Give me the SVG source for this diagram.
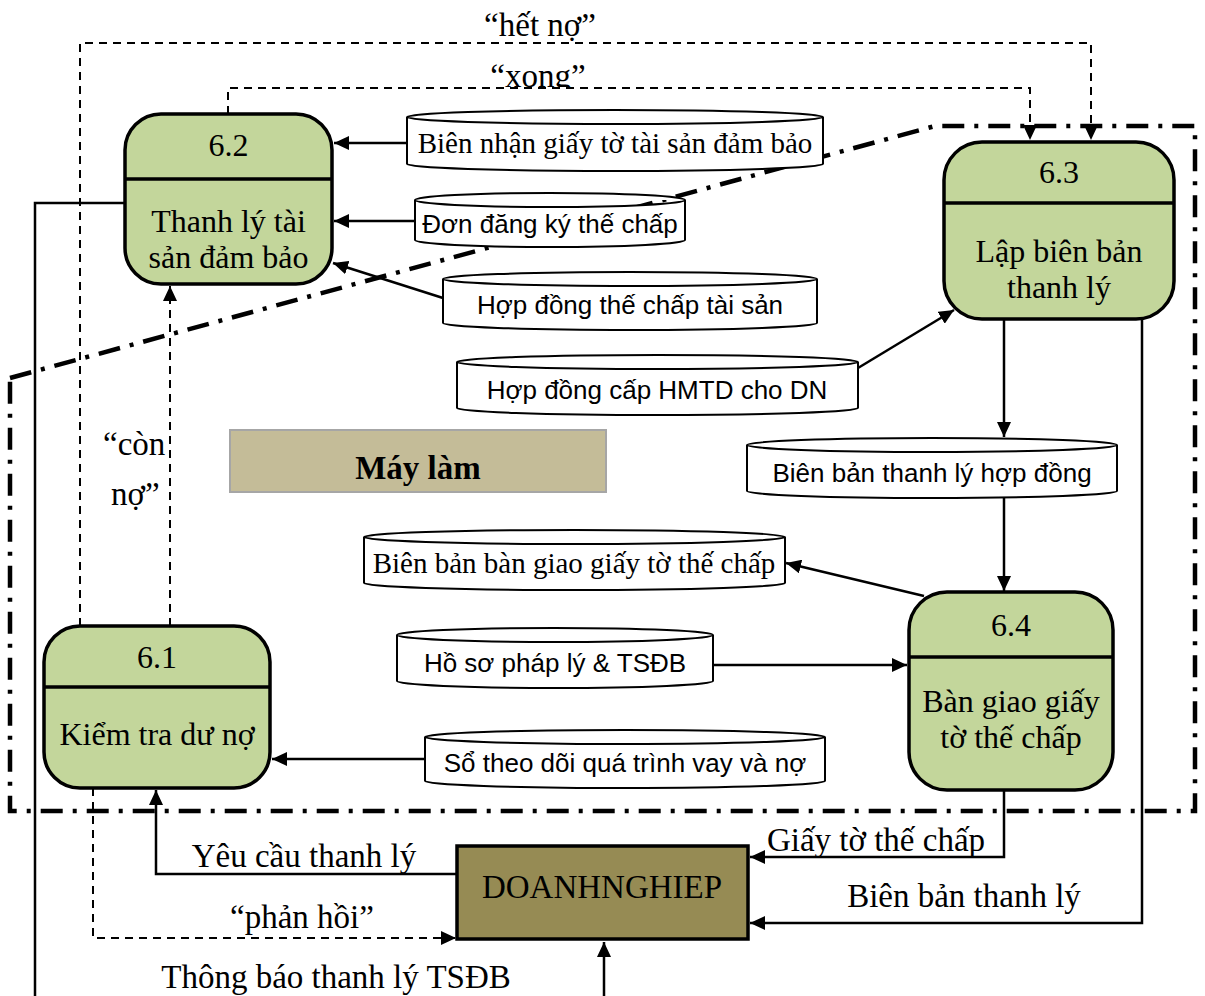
<svg xmlns="http://www.w3.org/2000/svg" width="1205" height="996" viewBox="0 0 1205 996">
  <style>
    .proc { fill: #C3D69B; stroke: #000; stroke-width: 3.5; }
    .div { stroke: #000; stroke-width: 3.5; }
    .store { fill: #fff; stroke: #000; stroke-width: 2; }
    .serif { font-family: "Liberation Serif", "Times New Roman", serif; fill: #000; }
    .sans { font-family: "Liberation Sans", Arial, sans-serif; fill: #000; font-size: 26px; }
    .ptxt { font-size: 32px; text-anchor: middle; }
    .stxt { font-size: 29px; text-anchor: middle; }
    .lbl { font-size: 33px; }
    .flow { fill: none; stroke: #000; stroke-width: 2.5; marker-end: url(#arr); }
    .dflow { fill: none; stroke: #000; stroke-width: 2; stroke-dasharray: 8 6; marker-end: url(#arr); }
    .bound { fill: none; stroke: #000; stroke-width: 4.5; stroke-dasharray: 22 10 4 10; }
  </style>
  <defs>
    <marker id="arr" markerUnits="userSpaceOnUse" markerWidth="16" markerHeight="14" refX="15" refY="7" orient="auto">
      <path d="M0,0 L15,7 L0,14 Z" fill="#000"/>
    </marker>
    <clipPath id="clipXong">
      <rect x="400" y="40" width="300" height="47"/>
    </clipPath>
  </defs>

  <!-- system boundary -->
  <path class="bound" d="M10,378 L935,126 L1195,126 L1195,811 L10,811 Z"/>

  <!-- data flows -->
  <g id="connectors">
    <path class="dflow" d="M80,626 V43 H1091 V140"/>
    <path class="dflow" d="M228,114 V88 H1030 V140"/>
    <path class="dflow" d="M170,626 V286"/>
    <path class="dflow" d="M93,788 V938 H456"/>
    <path class="flow" d="M457,874 H156 V790"/>
    <path class="flow" d="M125,203 H35 V1010 H604 V942"/>
    <path class="flow" d="M407,143 H334"/>
    <path class="flow" d="M415,221 H334"/>
    <path class="flow" d="M443,298 L333,263"/>
    <path class="flow" d="M858,368 L954,310"/>
    <path class="flow" d="M1004,319 V437"/>
    <path class="flow" d="M1004,498 V591"/>
    <path class="flow" d="M924,596 L786,563"/>
    <path class="flow" d="M713,665 H907"/>
    <path class="flow" d="M425,759 H272"/>
    <path class="flow" d="M1004,790 V857 H750"/>
    <path class="flow" d="M1142,319 V923 H750"/>

    <text class="serif lbl" x="540" y="36" text-anchor="middle">“hết nợ”</text>
    <text class="serif lbl" x="538" y="87" text-anchor="middle" clip-path="url(#clipXong)">“xong”</text>
    <text class="serif lbl" x="103" y="455">“còn</text>
    <text class="serif lbl" x="111" y="505">nợ”</text>
    <text class="serif lbl" x="304" y="867" text-anchor="middle">Yêu cầu thanh lý</text>
    <text class="serif lbl" x="302" y="928" text-anchor="middle">“phản hồi”</text>
    <text class="serif lbl" x="336" y="988" text-anchor="middle">Thông báo thanh lý TSĐB</text>
    <text class="serif lbl" x="876" y="851" text-anchor="middle">Giấy tờ thế chấp</text>
    <text class="serif lbl" x="964" y="907" text-anchor="middle">Biên bản thanh lý</text>
  </g>

  <!-- processes -->
  <g id="p62">
    <rect class="proc" x="125" y="114" width="207" height="170" rx="36"/>
    <line class="div" x1="125" y1="179" x2="332" y2="179"/>
    <text class="serif ptxt" x="228.5" y="156">6.2</text>
    <text class="serif ptxt" x="228.5" y="232">Thanh lý tài</text>
    <text class="serif ptxt" x="228.5" y="268">sản đảm bảo</text>
  </g>
  <g id="p63">
    <rect class="proc" x="944" y="142" width="230" height="177" rx="38"/>
    <line class="div" x1="944" y1="203" x2="1174" y2="203"/>
    <text class="serif ptxt" x="1059" y="183">6.3</text>
    <text class="serif ptxt" x="1059" y="262">Lập biên bản</text>
    <text class="serif ptxt" x="1059" y="298">thanh lý</text>
  </g>
  <g id="p61">
    <rect class="proc" x="44" y="626" width="226" height="162" rx="36"/>
    <line class="div" x1="44" y1="687" x2="270" y2="687"/>
    <text class="serif ptxt" x="157" y="668">6.1</text>
    <text class="serif ptxt" x="157" y="745">Kiểm tra dư nợ</text>
  </g>
  <g id="p64">
    <rect class="proc" x="909" y="592" width="204" height="198" rx="38"/>
    <line class="div" x1="909" y1="657" x2="1113" y2="657"/>
    <text class="serif ptxt" x="1011" y="636">6.4</text>
    <text class="serif ptxt" x="1011" y="712">Bàn giao giấy</text>
    <text class="serif ptxt" x="1011" y="748">tờ thế chấp</text>
  </g>

  <!-- external entity -->
  <g id="doanhnghiep">
    <rect x="457" y="846" width="291" height="93" fill="#968B54" stroke="#000" stroke-width="3.5"/>
    <text class="serif" x="602" y="898" font-size="33" text-anchor="middle">DOANHNGHIEP</text>
  </g>

  <!-- annotation box -->
  <g id="maylam">
    <rect x="230" y="430" width="376" height="62" fill="#C4BC98" stroke="#A6A6A6" stroke-width="2"/>
    <text class="serif" x="418" y="479" font-size="33" font-weight="bold" text-anchor="middle">Máy làm</text>
  </g>

  <!-- data stores -->
  <g id="ds-bien-nhan">
    <path class="store" d="M407,117 A208,7 0 0 1 823,117 L823,164 A208,7 0 0 1 407,164 Z M407,117 A208,7 0 0 0 823,117"/>
    <text class="serif stxt" x="615" y="153">Biên nhận giấy tờ tài sản đảm bảo</text>
  </g>
  <g id="ds-don-dang-ky">
    <path class="store" d="M415,200 A135,7 0 0 1 685,200 L685,240 A135,7 0 0 1 415,240 Z M415,200 A135,7 0 0 0 685,200"/>
    <text class="sans" x="550" y="233" text-anchor="middle">Đơn đăng ký thế chấp</text>
  </g>
  <g id="ds-hd-the-chap">
    <path class="store" d="M443,279 A187,7 0 0 1 817,279 L817,323 A187,7 0 0 1 443,323 Z M443,279 A187,7 0 0 0 817,279"/>
    <text class="sans" x="630" y="314" text-anchor="middle">Hợp đồng thế chấp tài sản</text>
  </g>
  <g id="ds-hd-hmtd">
    <path class="store" d="M457,362 A200.5,7 0 0 1 858,362 L858,408 A200.5,7 0 0 1 457,408 Z M457,362 A200.5,7 0 0 0 858,362"/>
    <text class="sans" x="657" y="399" text-anchor="middle">Hợp đồng cấp HMTD cho DN</text>
  </g>
  <g id="ds-bb-thanh-ly">
    <path class="store" d="M747,445 A185,7 0 0 1 1117,445 L1117,491 A185,7 0 0 1 747,491 Z M747,445 A185,7 0 0 0 1117,445"/>
    <text class="sans" x="932" y="482" text-anchor="middle">Biên bản thanh lý hợp đồng</text>
  </g>
  <g id="ds-bb-ban-giao">
    <path class="store" d="M364,537 A210.5,7 0 0 1 785,537 L785,583 A210.5,7 0 0 1 364,583 Z M364,537 A210.5,7 0 0 0 785,537"/>
    <text class="serif stxt" x="574" y="573">Biên bản bàn giao giấy tờ thế chấp</text>
  </g>
  <g id="ds-ho-so">
    <path class="store" d="M397,635 A158,7 0 0 1 713,635 L713,681 A158,7 0 0 1 397,681 Z M397,635 A158,7 0 0 0 713,635"/>
    <text class="sans" x="555" y="672" text-anchor="middle">Hồ sơ pháp lý &amp; TSĐB</text>
  </g>
  <g id="ds-so-theo-doi">
    <path class="store" d="M425,737 A200,7 0 0 1 825,737 L825,781 A200,7 0 0 1 425,781 Z M425,737 A200,7 0 0 0 825,737"/>
    <text class="sans" x="625" y="772" text-anchor="middle">Sổ theo dõi quá trình vay và nợ</text>
  </g>
</svg>
